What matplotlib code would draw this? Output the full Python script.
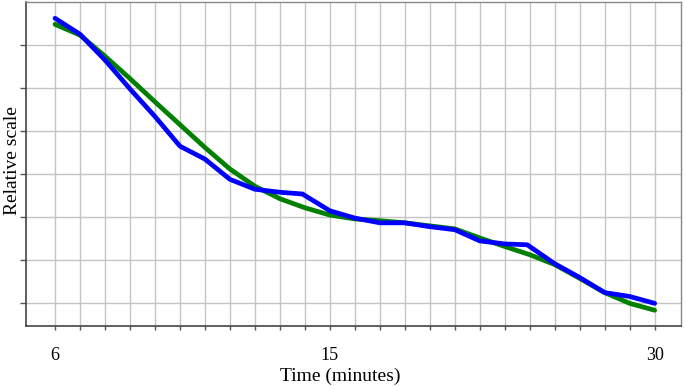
import matplotlib
matplotlib.use("Agg")
from matplotlib import pyplot as plt

# x positions are grid steps (25 steps from 6 to 30 minutes)
steps = list(range(25))
tick_pos = [0, 11, 24]
tick_labels = ["6", "15", "30"]

# measured curve (blue) with its kinks
blue_x = [0, 1, 2, 3, 4, 5, 6, 7, 8, 9, 9.9, 11, 12, 13, 14, 15, 16, 17,
          18, 18.9, 20, 21, 22, 23, 24]
blue_y = [6.62, 6.25, 5.65, 4.98, 4.34, 3.65, 3.35, 2.88, 2.65, 2.58, 2.54,
          2.15, 1.98, 1.87, 1.87, 1.78, 1.71, 1.45, 1.38, 1.36, 0.92, 0.60,
          0.25, 0.16, 0.0]

# smooth fit (green)
green_y = [6.48, 6.23, 5.74, 5.22, 4.68, 4.15, 3.62, 3.12, 2.72, 2.43, 2.22,
           2.05, 1.96, 1.92, 1.87, 1.80, 1.73, 1.52, 1.32, 1.13, 0.90, 0.58,
           0.25, 0.0, -0.16]

plt.rcParams["font.family"] = ["Liberation Serif", "DejaVu Serif"]

fig = plt.figure(figsize=(6.85, 3.86), dpi=100)
ax = fig.add_axes([0.038, 0.155, 0.956, 0.84])

ax.plot(steps, green_y, color="#008000", lw=3.4, solid_capstyle="round",
        solid_joinstyle="round", zorder=3)
ax.plot(blue_x, blue_y, color="#0000ff", lw=3.4, solid_capstyle="round",
        solid_joinstyle="round", zorder=4)

ax.set_xlim(-1.16, 25.05)
ax.set_ylim(-0.53, 7.0)
ax.set_xticks(steps)
ax.set_xticklabels(["" if i not in tick_pos else tick_labels[tick_pos.index(i)] for i in steps],
                   fontsize=13)
ax.set_yticks(range(7))
ax.set_yticklabels([])
ax.grid(True, color="#c4c4c4", lw=1.0)
ax.set_axisbelow(True)

ax.tick_params(axis="x", length=3, width=1, color="#555555", pad=12)
ax.tick_params(axis="y", length=4, width=1, color="#555555")
for s in ["left", "bottom"]:
    ax.spines[s].set_color("#444444")
    ax.spines[s].set_linewidth(1.2)
for s in ["top", "right"]:
    ax.spines[s].set_color("#888888")
    ax.spines[s].set_linewidth(1.0)

fig.text(0.497, 0.026, "Time (minutes)", fontsize=14, ha="center", va="center")
fig.text(0.018, 0.585, "Relative scale", fontsize=14, ha="center", va="center",
         rotation=90)

fig.savefig("out.png", dpi=100)
